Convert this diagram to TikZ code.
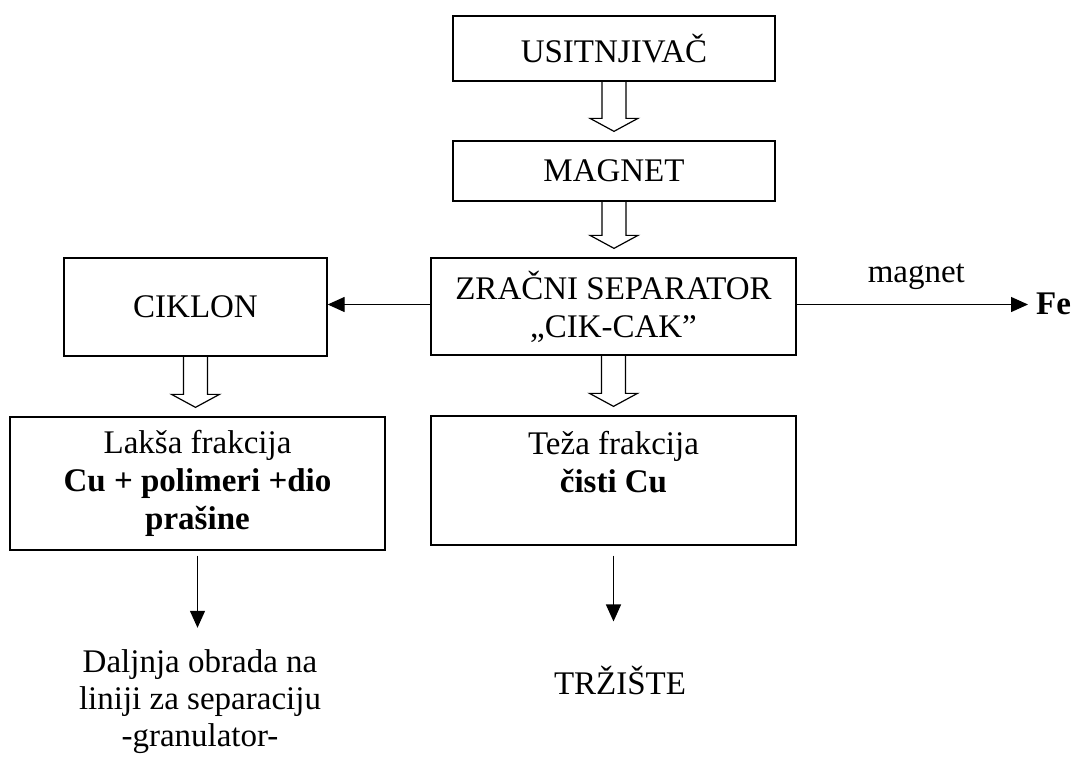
\documentclass[tikz,border=0pt]{standalone}
\usepackage{fontspec}
\setmainfont{Liberation Serif}
\usetikzlibrary{arrows.meta,calc}

% siroka (prazna) strelica od donjeg ruba jednog bloka do vrha drugog
\newcommand{\sirokastrelica}[2]{%
  \draw[line width=1.2pt, line join=miter]
    let \p1=(#1.south), \p2=(#2.north) in
    (\x1-12pt,\y1) -- (\x1-12pt,\y2+22pt) -- (\x1-24pt,\y2+22pt)
    -- (\x1,\y2+9pt) -- (\x1+24pt,\y2+22pt) -- (\x1+12pt,\y2+22pt)
    -- (\x1+12pt,\y1);
}

\begin{document}
\begin{tikzpicture}[x=1pt,y=-1pt,
    font=\fontsize{33}{38}\selectfont,
    blok/.style={draw, line width=1.3pt, align=center, inner sep=0pt},
    tanka/.style={line width=1.3pt, -{Triangle[length=17pt,width=15pt]}}]
    \useasboundingbox (0,0) rectangle (1077,756);

    % blokovi
    \node[blok, minimum width=322, minimum height=65] (usit) at (614,48.5) {USITNJIVAČ};
    \node[blok, minimum width=322, minimum height=60] (magnet) at (614,171) {MAGNET};
    \node[blok, minimum width=365, minimum height=97] (zracni) at (613.5,306.5)
        {ZRAČNI SEPARATOR\\„CIK-CAK”};
    \node[blok, minimum width=263, minimum height=98] (ciklon) at (195.5,307) {CIKLON};
    \node[blok, minimum width=375, minimum height=133] (laksa) at (197.5,483.5)
        {Lakša frakcija\\\textbf{Cu + polimeri +dio}\\\textbf{prašine}};
    \node[blok, minimum width=365, minimum height=129] (teza) at (613.5,480.5)
        {Teža frakcija\\\textbf{čisti Cu}\\~};

    % izlazi
    \node[anchor=west, inner sep=0pt] (fe) at (1036,304) {\textbf{Fe}};
    \node[align=center, inner sep=0pt, font=\fontsize{33}{37}\selectfont] (daljnja) at (200,702)
        {Daljnja obrada na\\liniji za separaciju\\-granulator-};
    \node[inner sep=0pt] (trziste) at (620,680) {TRŽIŠTE};

    % strelice
    \sirokastrelica{usit}{magnet}
    \sirokastrelica{magnet}{zracni}
    \sirokastrelica{zracni}{teza}
    \sirokastrelica{ciklon}{laksa}

    \draw[tanka] ([yshift=2pt]zracni.west) -- ([yshift=2pt]zracni.west -| ciklon.east);
    \draw[tanka, shorten >=8pt] ([yshift=2pt]zracni.east) -- ([yshift=2pt]zracni.east -| fe.west)
        node[midway, above=11pt] {magnet};
    \draw[tanka, shorten <=5pt, shorten >=22pt] (laksa.south) -- (laksa.south |- daljnja.north);
    \draw[tanka, shorten <=10pt, shorten >=44pt] (teza.south) -- (teza.south |- trziste.north);

\end{tikzpicture}
\end{document}
